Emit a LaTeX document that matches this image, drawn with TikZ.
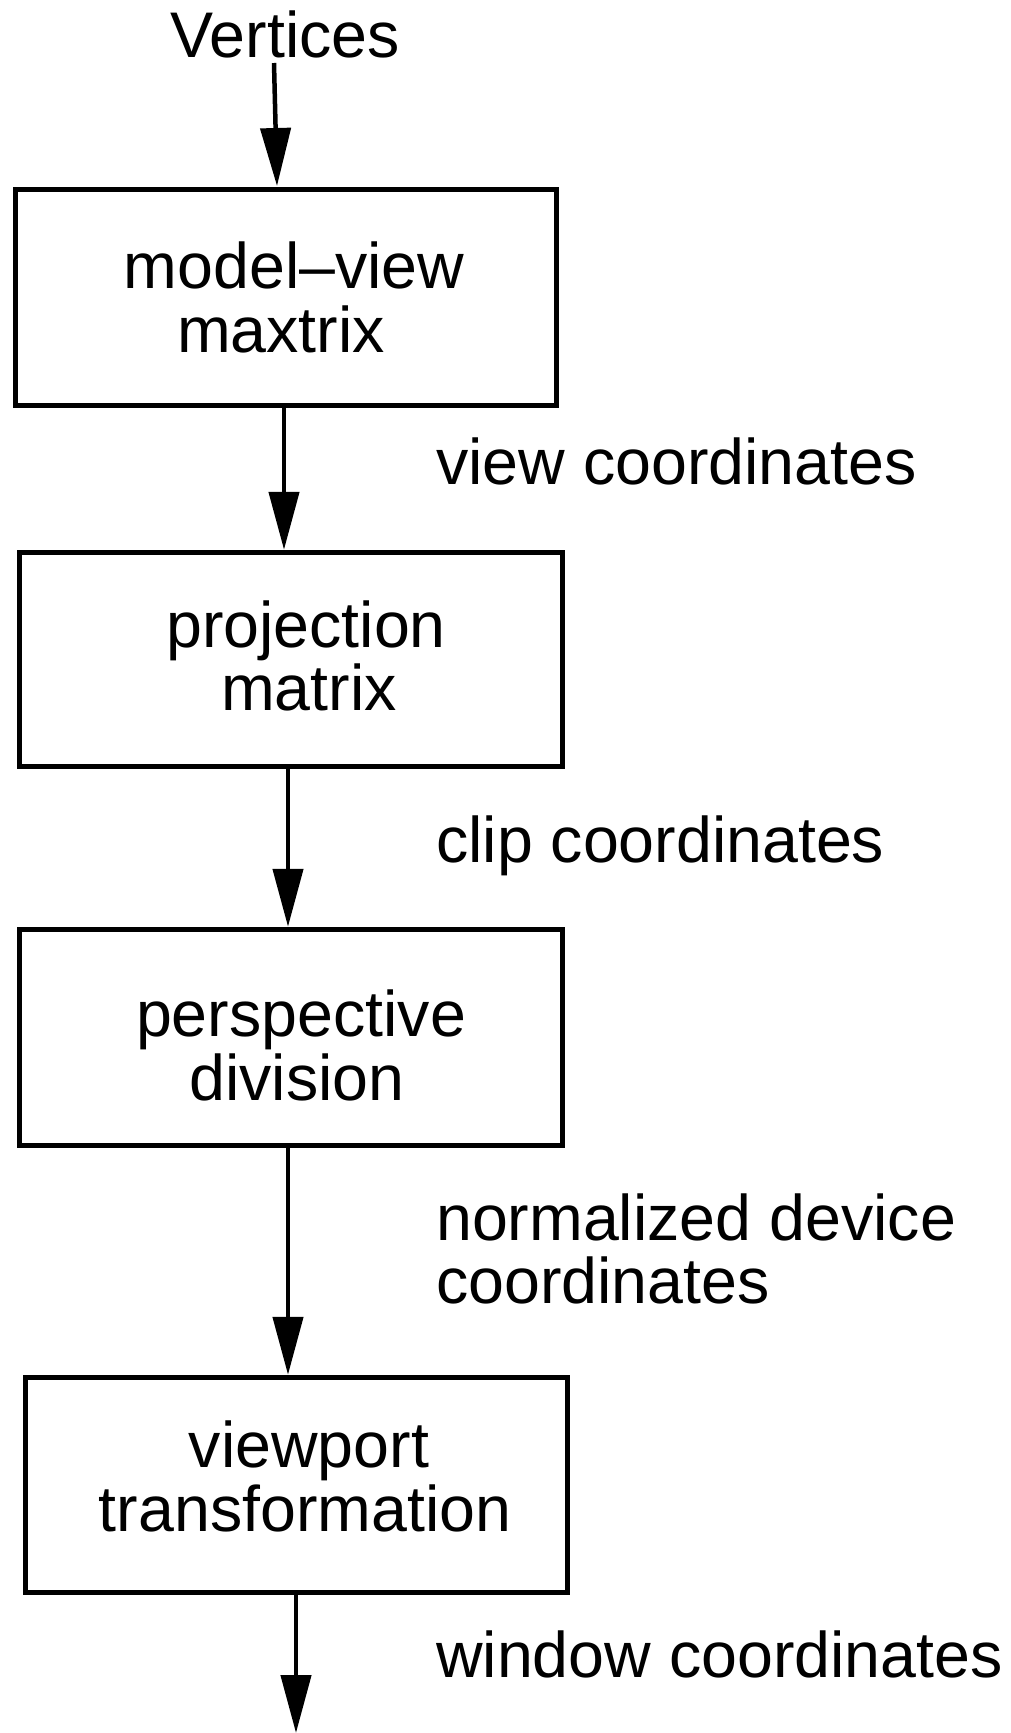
\documentclass[tikz,border=0pt]{standalone}
\usepackage{fontspec}
\setmainfont{Liberation Sans}
\usetikzlibrary{arrows.meta}
\tikzset{
  box/.style={draw, line width=5.5pt, rectangle, inner sep=0pt},
  flow/.style={line width=4.5pt, -{Triangle[length=58pt,width=30pt]}},
  txt/.style={anchor=base, inner sep=0pt, font=\fontsize{64.5}{66}\selectfont},
  lbl/.style={anchor=base west, inner sep=0pt, font=\fontsize{64.5}{66}\selectfont}
}
\begin{document}
\begin{tikzpicture}[x=1pt,y=-1pt]
\useasboundingbox (0,0) rectangle (1011,1733);
% boxes
\node[box, minimum width=541pt, minimum height=216pt] (b1) at (286,297.5) {};
\node[box, minimum width=543pt, minimum height=214pt] (b2) at (291,659.5) {};
\node[box, minimum width=543pt, minimum height=216pt] (b3) at (291,1037.5) {};
\node[box, minimum width=542pt, minimum height=215pt] (b4) at (296.5,1485) {};
% texts
\node[txt] (vert) at (285,57) {Vertices};
\node[txt] (t1a) at (294,288) {model–view};
\node[txt] (t1b) at (281,352) {maxtrix};
\node[txt] (t2a) at (306,647) {projection};
\node[txt] (t2b) at (309,710) {matrix};
\node[txt] (t3a) at (301,1036) {perspective};
\node[txt] (t3b) at (297,1100) {division};
\node[txt] (t4a) at (309,1467) {viewport};
\node[txt] (t4b) at (305,1531) {transformation};
% labels
\node[lbl] (l1) at (436,484) {view coordinates};
\node[lbl] (l2) at (436,862) {clip coordinates};
\node[lbl] (l3a) at (436,1240) {normalized device};
\node[lbl] (l3b) at (436,1303) {coordinates};
\node[lbl] (l4) at (436,1677) {window coordinates};
% connectors
\coordinate (vstart) at (274,63);
\coordinate (vend) at (277,186);
\coordinate (fin) at (296,1733);
\draw[flow] (vstart) -- (vend);
\draw[flow] (b1.south -| 284,0) -- (b2.north -| 284,0);
\draw[flow] (b2.south -| 288,0) -- (b3.north -| 288,0);
\draw[flow] (b3.south -| 288,0) -- (b4.north -| 288,0);
\draw[flow] (b4.south -| 296,0) -- (fin);
\end{tikzpicture}
\end{document}
